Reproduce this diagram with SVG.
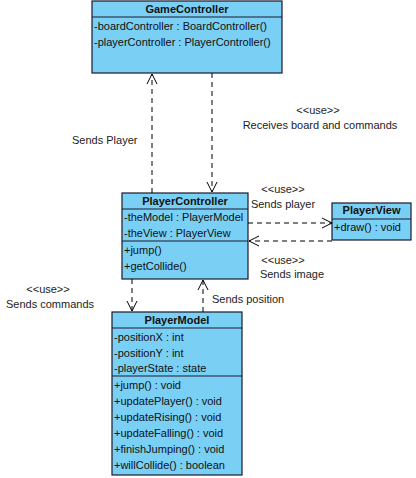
<svg xmlns="http://www.w3.org/2000/svg" width="416" height="478" viewBox="0 0 416 478">
<style>
.box{fill:#7acff5;stroke:#1a1a2e;stroke-width:1.2}
.sep{stroke:#1a1a2e;stroke-width:1.2}
text{font-family:"Liberation Sans",Arial,sans-serif;font-size:11px;fill:#111}
.hd{font-weight:bold;text-anchor:middle}
.lbl{fill:#222}
.dep{fill:none;stroke:#000;stroke-width:1;stroke-dasharray:5,4}
.ah{fill:none;stroke:#000;stroke-width:1}
</style>
<rect width="416" height="478" fill="#fff"/>
<g id="GameController">
<rect class="box" x="92" y="1" width="190" height="72"/>
<line class="sep" x1="92" y1="17" x2="282" y2="17"/>
<text class="hd" x="187" y="13">GameController</text>
<text x="94" y="30">-boardController : BoardController()</text>
<text x="94" y="46">-playerController : PlayerController()</text>
</g>
<g id="PlayerController">
<rect class="box" x="122" y="193" width="126" height="86"/>
<line class="sep" x1="122" y1="209" x2="248" y2="209"/>
<line class="sep" x1="122" y1="241" x2="248" y2="241"/>
<text class="hd" x="185" y="205">PlayerController</text>
<text x="124" y="221">-theModel : PlayerModel</text>
<text x="124" y="237">-theView : PlayerView</text>
<text x="124" y="254">+jump()</text>
<text x="124" y="270">+getCollide()</text>
</g>
<g id="PlayerView">
<rect class="box" x="332" y="203" width="79" height="37"/>
<line class="sep" x1="332" y1="219" x2="411" y2="219"/>
<text class="hd" x="371.5" y="214">PlayerView</text>
<text x="334" y="231">+draw() : void</text>
</g>
<g id="PlayerModel">
<rect class="box" x="112" y="312" width="130" height="163"/>
<line class="sep" x1="112" y1="328" x2="242" y2="328"/>
<line class="sep" x1="112" y1="376" x2="242" y2="376"/>
<text class="hd" x="177" y="324">PlayerModel</text>
<text x="114" y="341">-positionX : int</text>
<text x="114" y="357">-positionY : int</text>
<text x="114" y="372">-playerState : state</text>
<text x="114" y="389">+jump() : void</text>
<text x="114" y="405">+updatePlayer() : void</text>
<text x="114" y="421">+updateRising() : void</text>
<text x="114" y="437">+updateFalling() : void</text>
<text x="114" y="453">+finishJumping() : void</text>
<text x="114" y="469">+willCollide() : boolean</text>
</g>
<g id="connectors">
<line class="dep" x1="152" y1="193" x2="152" y2="74"/>
<polyline class="ah" points="147,84 152,74 157,84"/>
<text class="lbl" x="72" y="144">Sends Player</text>
<line class="dep" x1="212" y1="73" x2="212" y2="192"/>
<polyline class="ah" points="207,182 212,192 217,182"/>
<text class="lbl" x="318" y="114" text-anchor="middle">&lt;&lt;use&gt;&gt;</text>
<text class="lbl" x="320" y="129" text-anchor="middle">Receives board and commands</text>
<line class="dep" x1="248" y1="223" x2="332" y2="223"/>
<polyline class="ah" points="322,218 332,223 322,228"/>
<text class="lbl" x="283" y="193" text-anchor="middle">&lt;&lt;use&gt;&gt;</text>
<text class="lbl" x="283" y="208" text-anchor="middle">Sends player</text>
<line class="dep" x1="332" y1="241" x2="249" y2="241"/>
<polyline class="ah" points="259,236 249,241 259,246"/>
<text class="lbl" x="283" y="264" text-anchor="middle">&lt;&lt;use&gt;&gt;</text>
<text class="lbl" x="292" y="278" text-anchor="middle">Sends image</text>
<line class="dep" x1="132" y1="279" x2="132" y2="311"/>
<polyline class="ah" points="127,301 132,311 137,301"/>
<text class="lbl" x="48" y="293" text-anchor="middle">&lt;&lt;use&gt;&gt;</text>
<text class="lbl" x="50" y="308" text-anchor="middle">Sends commands</text>
<line class="dep" x1="203" y1="312" x2="203" y2="280"/>
<polyline class="ah" points="198,290 203,280 208,290"/>
<text class="lbl" x="212" y="303">Sends position</text>
</g>
</svg>
